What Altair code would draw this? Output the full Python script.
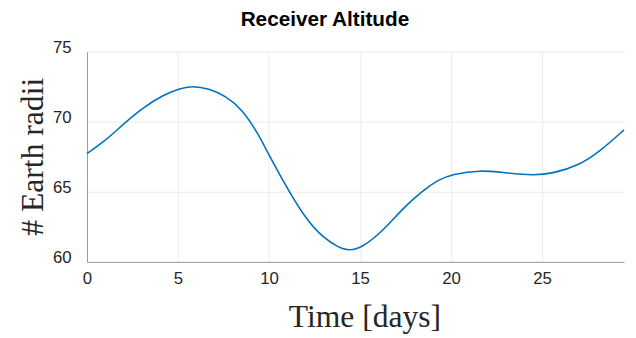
import altair as alt
import pandas as pd

days = [0, 0.92, 2.01, 3.09, 4.18, 5.08, 5.72, 6.71, 7.61, 8.52, 9.38, 10.0,
        11.14, 12.05, 12.95, 13.85, 14.4, 15.12, 16.02, 16.57, 17.47, 18.38,
        19.28, 20.04, 21.63, 22.9, 24.53, 25.61, 27.06, 28.14, 29.5]
radii = [67.73, 68.54, 69.84, 71.01, 71.90, 72.35, 72.56, 72.37, 71.83, 70.89,
         69.2, 67.6, 64.91, 63.03, 61.74, 61.0, 60.78, 61.04, 61.97, 62.68,
         63.96, 65.02, 65.85, 66.25, 66.55, 66.36, 66.15, 66.31, 66.9, 67.84,
         69.42]
x_ticks = [0, 5, 10, 15, 20, 25]
y_ticks = [60, 65, 70, 75]

df = pd.DataFrame({"t": days, "r": radii})

chart = alt.Chart(df).mark_line(
    color="#0072BD", strokeWidth=1.6, interpolate="basis"
).encode(
    x=alt.X("t:Q", scale=alt.Scale(domain=[0, 29.5], nice=False, zero=False),
            axis=alt.Axis(values=x_ticks, title="Time [days]", format="d",
                          titleX=281, titleY=65, titleBaseline="alphabetic",
                          titleAnchor="start", titleAlign="center",
                          labelPadding=9, labelFlush=False)),
    y=alt.Y("r:Q", scale=alt.Scale(domain=[60, 75], nice=False, zero=False),
            axis=alt.Axis(values=y_ticks, title="# Earth radii", format="d",
                          titleX=-45, titleY=106, titleBaseline="alphabetic",
                          titleAlign="center", titleAngle=-90,
                          labelPadding=16, labelOffset=-4, labelFlush=False)),
).properties(
    width=544, height=213,
    title=alt.TitleParams("Receiver Altitude", font="Liberation Sans",
                          fontWeight="bold", fontSize=21, color="#000000",
                          anchor="middle", dx=-31, offset=11, dy=19,
                          baseline="alphabetic"),
    autosize=alt.AutoSizeParams(type="none"),
    padding={"left": 80, "top": 42, "right": 4, "bottom": 75},
).configure_axis(
    labelFont="Liberation Sans", labelFontSize=17, labelColor="#262626",
    titleFont="Liberation Serif", titleFontSize=32, titleFontWeight="normal",
    titleColor="#262626",
    grid=True, gridColor="#ebebeb", gridWidth=1,
    domainColor="#999999", domainWidth=1,
    ticks=False, tickSize=0,
).configure_view(stroke=None)

chart.save("out.html", embed_options={"renderer": "svg", "actions": False})
